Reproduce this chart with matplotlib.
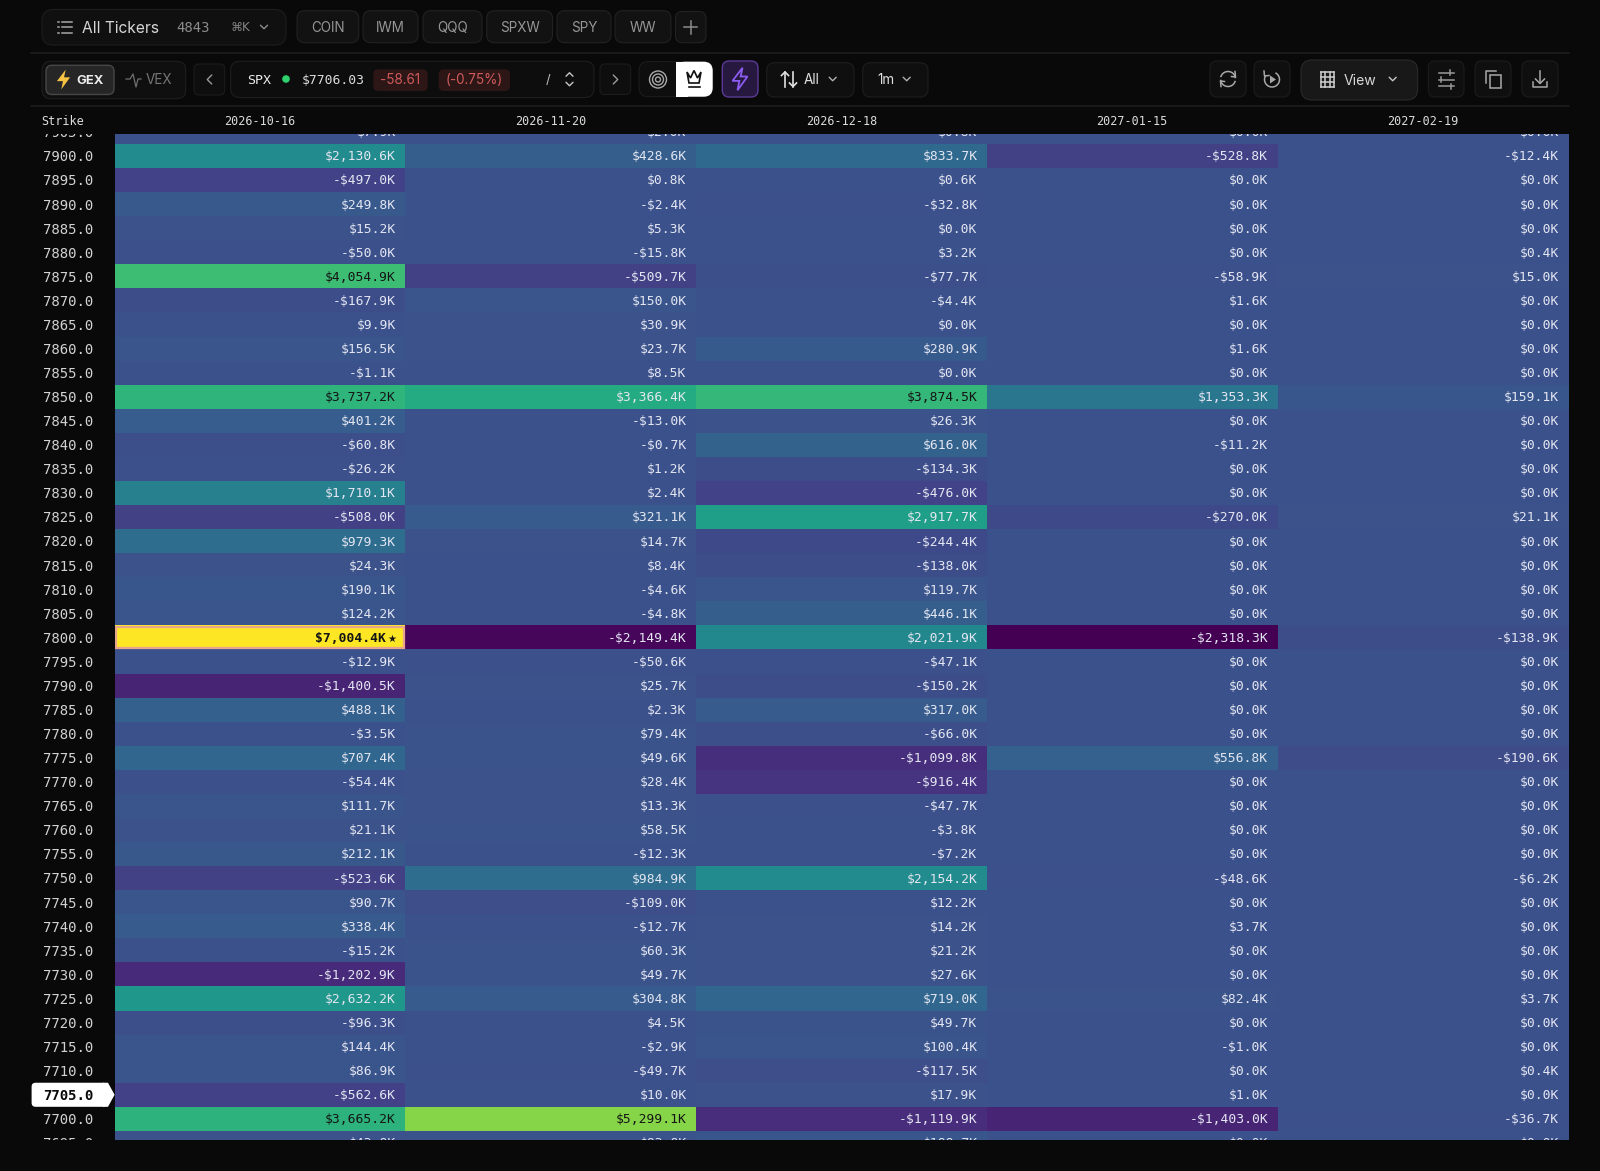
import matplotlib
matplotlib.use("Agg")
import matplotlib.pyplot as plt
import numpy as np
from matplotlib.colors import Normalize
from matplotlib.patches import Circle, FancyBboxPatch, Polygon, Rectangle

WIDTH, HEIGHT = 1600, 1171
BG = "#090909"
MONO = "DejaVu Sans Mono"
SANS = "Inter"

# heatmap box in picture pixels
HEAT_LEFT, HEAT_RIGHT = 114.6, 1568.9
HEAT_TOP, HEAT_BOTTOM = 134.0, 1139.7
ROW_H = 24.07
FIRST_FULL_ROW_TOP = 144.0
LABEL_LEFT = 30.0

EXPIRIES = ["2026-10-16", "2026-11-20", "2026-12-18", "2027-01-15", "2027-02-19"]
TICKERS = ["COIN", "IWM", "QQQ", "SPXW", "SPY", "WW"]
SPOT_STRIKE = 7705.0

STRIKES = [7905.0, 7900.0, 7895.0, 7890.0, 7885.0, 7880.0, 7875.0, 7870.0, 7865.0, 7860.0, 7855.0,
           7850.0, 7845.0, 7840.0, 7835.0, 7830.0, 7825.0, 7820.0, 7815.0, 7810.0, 7805.0,
           7800.0, 7795.0, 7790.0, 7785.0, 7780.0, 7775.0, 7770.0, 7765.0, 7760.0, 7755.0,
           7750.0, 7745.0, 7740.0, 7735.0, 7730.0, 7725.0, 7720.0, 7715.0, 7710.0, 7705.0,
           7700.0, 7695.0]

GEX_OCT = [7.9, 2130.6, -497.0, 249.8, 15.2, -50.0, 4054.9, -167.9, 9.9, 156.5, -1.1,
           3737.2, 401.2, -60.8, -26.2, 1710.1, -508.0, 979.3, 24.3, 190.1, 124.2,
           7004.4, -12.9, -1400.5, 488.1, -3.5, 707.4, -54.4, 111.7, 21.1, 212.1,
           -523.6, 90.7, 338.4, -15.2, -1202.9, 2632.2, -96.3, 144.4, 86.9, -562.6,
           3665.2, 43.8]
GEX_NOV = [2.0, 428.6, 0.8, -2.4, 5.3, -15.8, -509.7, 150.0, 30.9, 23.7, 8.5,
           3366.4, -13.0, -0.7, 1.2, 2.4, 321.1, 14.7, 8.4, -4.6, -4.8,
           -2149.4, -50.6, 25.7, 2.3, 79.4, 49.6, 28.4, 13.3, 58.5, -12.3,
           984.9, -109.0, -12.7, 60.3, 49.7, 304.8, 4.5, -2.9, -49.7, 10.0,
           5299.1, 83.8]
GEX_DEC = [0.8, 833.7, 0.6, -32.8, 0.0, 3.2, -77.7, -4.4, 0.0, 280.9, 0.0,
           3874.5, 26.3, 616.0, -134.3, -476.0, 2917.7, -244.4, -138.0, 119.7, 446.1,
           2021.9, -47.1, -150.2, 317.0, -66.0, -1099.8, -916.4, -47.7, -3.8, -7.2,
           2154.2, 12.2, 14.2, 21.2, 27.6, 719.0, 49.7, 100.4, -117.5, 17.9,
           -1119.9, 188.7]
GEX_JAN = [0.0, -528.8, 0.0, 0.0, 0.0, 0.0, -58.9, 1.6, 0.0, 1.6, 0.0,
           1353.3, 0.0, -11.2, 0.0, 0.0, -270.0, 0.0, 0.0, 0.0, 0.0,
           -2318.3, 0.0, 0.0, 0.0, 0.0, 556.8, 0.0, 0.0, 0.0, 0.0,
           -48.6, 0.0, 3.7, 0.0, 0.0, 82.4, 0.0, -1.0, 0.0, 1.0,
           -1403.0, 0.0]
GEX_FEB = [0.0, -12.4, 0.0, 0.0, 0.0, 0.4, 15.0, 0.0, 0.0, 0.0, 0.0,
           159.1, 0.0, 0.0, 0.0, 0.0, 21.1, 0.0, 0.0, 0.0, 0.0,
           -138.9, 0.0, 0.0, 0.0, 0.0, -190.6, 0.0, 0.0, 0.0, 0.0,
           -6.2, 0.0, 0.0, 0.0, 0.0, 3.7, 0.0, 0.0, 0.4, 0.0,
           -36.7, 0.0]


def px(size: float) -> float:
    """Font size in picture pixels to points at dpi 100."""
    return size * 0.72


def format_gex(value: float) -> str:
    sign = "-" if value < 0 else ""
    return f"{sign}${abs(value):,.1f}K"


def pill(ax, x0, x1, y0, y1, radius=7.0, face="#111111", edge="#202020", lw=0.8):
    ax.add_patch(FancyBboxPatch((x0, y0), x1 - x0, y1 - y0,
                                boxstyle=f"round,pad=0,rounding_size={radius}",
                                facecolor=face, edgecolor=edge, linewidth=lw))


def chevron(ax, x, y, size=3.5, color="#9a9a9a", direction="down", lw=1.0):
    if direction == "down":
        xs, ys = [x - size, x, x + size], [y - size / 2, y + size / 2, y - size / 2]
    elif direction == "up":
        xs, ys = [x - size, x, x + size], [y + size / 2, y - size / 2, y + size / 2]
    elif direction == "left":
        xs, ys = [x + size / 2, x - size / 2, x + size / 2], [y - size, y, y + size]
    else:
        xs, ys = [x - size / 2, x + size / 2, x - size / 2], [y - size, y, y + size]
    ax.plot(xs, ys, color=color, linewidth=lw, solid_capstyle="round")


def label(ax, x, y, text, size=13.0, color="#d8d8d8", family=SANS, ha="left", weight="normal"):
    # baseline placement, so Q or commas do not move the text up or down
    ax.text(x, y + size * 0.36, text, fontsize=px(size), color=color, family=family, ha=ha, va="baseline",
            fontweight=weight)


def bolt(ax, x, y, scale=1.0, **kwargs):
    shape = np.array([[2, -9], [-6, 1.5], [-0.5, 1.5], [-2, 9], [6, -2], [0.5, -2]]) * scale
    ax.add_patch(Polygon(shape + [x, y], closed=True, **kwargs))


def draw_toolbar(ax):
    # separators
    for y in (53.3, 105.7):
        ax.plot([31, HEAT_RIGHT], [y, y], color="#1d1d1d", linewidth=1.2)

    # first row
    pill(ax, 42, 286, 9.5, 45, radius=11, face="#101010", edge="#1e1e1e")
    for y in (21.5, 27, 32.5):
        ax.plot([57.5, 59], [y, y], color="#a8a8a8", linewidth=1.1)
        ax.plot([61.5, 72], [y, y], color="#a8a8a8", linewidth=1.1)
    label(ax, 82.5, 27, "All Tickers", size=15.5, color="#d6d6d6")
    label(ax, 176, 27, "4843", size=14, color="#8c8c8c", family=MONO)
    label(ax, 230.5, 27, "⌘K", size=12, color="#858585", family="DejaVu Sans")
    chevron(ax, 264, 27, color="#8c8c8c")

    ticker_edges = [(297, 358.7), (363, 418), (423, 482), (486.7, 552.5), (557, 611), (615, 671)]
    for name, (x0, x1) in zip(TICKERS, ticker_edges):
        pill(ax, x0, x1, 10.7, 42.7, radius=8, face="#121212", edge="#222222")
        label(ax, (x0 + x1) / 2, 27, name, size=13.5, color="#969696", ha="center")
    pill(ax, 675.5, 706, 11.5, 42.7, radius=7, face="#121212", edge="#222222")
    ax.plot([684, 697], [27, 27], color="#8c8c8c", linewidth=1.1)
    ax.plot([690.5, 690.5], [20.5, 33.5], color="#8c8c8c", linewidth=1.1)

    # GEX / VEX switch
    pill(ax, 42, 185.7, 61.3, 98.7, radius=9, face="#0f0f0f", edge="#1e1e1e")
    pill(ax, 46, 114, 65.3, 94.5, radius=6, face="#262626", edge="#474747", lw=1.0)
    bolt(ax, 63.5, 79.5, scale=1.1, facecolor="#f6c344", edgecolor="none")
    label(ax, 76.5, 79.5, "GEX", size=13, color="#ededed", weight="bold")
    ax.plot([126, 130, 133, 136, 138, 141], [79, 79, 74, 87, 79, 79], color="#6f6f6f", linewidth=0.9)
    label(ax, 146, 79.5, "VEX", size=13.5, color="#757575")

    pill(ax, 194, 224.7, 64, 95, radius=5, face="#0e0e0e", edge="#1c1c1c")
    chevron(ax, 209.5, 79.5, size=4.5, direction="left")

    # symbol box
    pill(ax, 230.7, 594, 61.3, 97.5, radius=9, face="#0d0d0d", edge="#1e1e1e")
    label(ax, 247.5, 79.5, "SPX", size=13.2, color="#ececec", family=MONO)
    ax.add_patch(Circle((286, 79), 3.8, facecolor="#2fd16f", edgecolor="none"))
    label(ax, 301.5, 79.5, "$7706.03", size=13, color="#dcdcdc", family=MONO)
    pill(ax, 373.3, 427.7, 69.3, 91, radius=5, face="#2c1616", edge="none", lw=0)
    label(ax, 400.5, 79.5, "-58.61", size=13.5, color="#d05a5a", ha="center")
    pill(ax, 438.7, 510, 69.3, 91, radius=5, face="#2c1616", edge="none", lw=0)
    label(ax, 474.3, 79.5, "(-0.75%)", size=13.5, color="#d05a5a", ha="center")
    label(ax, 548, 79.5, "/", size=13, color="#bdbdbd", ha="center")
    chevron(ax, 569.5, 74.5, size=3.5, direction="up", color="#c8c8c8")
    chevron(ax, 569.5, 84, size=3.5, color="#c8c8c8")

    pill(ax, 600, 630.7, 64, 94.5, radius=5, face="#0e0e0e", edge="#1c1c1c")
    chevron(ax, 615.5, 79.5, size=4.5, direction="right")

    # icon group with white crown toggle
    pill(ax, 639, 712.7, 61.7, 96.7, radius=9, face="#0e0e0e", edge="#1c1c1c")
    pill(ax, 676, 712.7, 61.7, 96.7, radius=9, face="#ffffff", edge="none", lw=0)
    ax.add_patch(Rectangle((676, 61.7), 12, 35, facecolor="#ffffff", edgecolor="none"))
    for radius in (8.5, 5.5, 2.5):
        ax.add_patch(Circle((658, 79.5), radius, facecolor="none", edgecolor="#a8a8a8", linewidth=1.0))
    crown = [[687, 72], [690.5, 78], [694, 70.5], [697.5, 78], [701, 72], [699, 83], [689, 83]]
    ax.add_patch(Polygon(crown, closed=True, facecolor="none", edgecolor="#111111", linewidth=1.2))
    ax.plot([688.5, 699.5], [86.5, 86.5], color="#111111", linewidth=1.2)

    pill(ax, 722.3, 758, 61, 97, radius=7, face="#26183e", edge="#5a3a96", lw=1.0)
    bolt(ax, 740, 79, scale=1.25, facecolor="none", edgecolor="#8d5cf0", linewidth=1.3)

    pill(ax, 766.7, 854, 62.7, 97, radius=8, face="#0f0f0f", edge="#1e1e1e")
    ax.plot([785, 785], [86.5, 72], color="#e2e2e2", linewidth=1.2)
    ax.plot([781.5, 785, 788.5], [75.5, 72, 75.5], color="#e2e2e2", linewidth=1.2)
    ax.plot([793, 793], [72, 86.5], color="#e2e2e2", linewidth=1.2)
    ax.plot([789.5, 793, 796.5], [83, 86.5, 83], color="#e2e2e2", linewidth=1.2)
    label(ax, 804, 79.5, "All", size=13.5, color="#e0e0e0")
    chevron(ax, 832.7, 79, color="#b0b0b0")

    pill(ax, 862.7, 928, 62.7, 97, radius=8, face="#0f0f0f", edge="#1e1e1e")
    label(ax, 877, 79.5, "1m", size=13.5, color="#e0e0e0")
    chevron(ax, 906.7, 79, color="#b0b0b0")

    # right side buttons
    for x0, x1 in [(1210, 1246), (1254, 1290), (1428.3, 1464), (1475, 1511), (1522, 1558)]:
        pill(ax, x0, x1, 61, 97, radius=7, face="#0f0f0f", edge="#1c1c1c")
    pill(ax, 1301, 1417.7, 60, 100, radius=11, face="#181818", edge="#2a2a2a")

    # refresh arrows
    theta = np.linspace(0.2, 2.8, 30)
    ax.plot(1228 + 7.5 * np.cos(theta), 79 - 7.5 * np.sin(theta), color="#a8a8a8", linewidth=1.1)
    ax.plot(1228 - 7.5 * np.cos(theta), 79 + 7.5 * np.sin(theta), color="#a8a8a8", linewidth=1.1)
    ax.plot([1235, 1235.5, 1231.5], [71.5, 77, 76.5], color="#a8a8a8", linewidth=1.1)
    ax.plot([1221, 1220.5, 1224.5], [86.5, 81, 81.5], color="#a8a8a8", linewidth=1.1)

    theta = np.linspace(-1.0, 3.6, 40)
    ax.plot(1272 + 7.5 * np.cos(theta), 79.5 + 7.5 * np.sin(theta), color="#a8a8a8", linewidth=1.1)
    ax.plot([1264, 1264.5, 1269], [71, 76, 75.5], color="#a8a8a8", linewidth=1.1)
    ax.add_patch(Polygon([[1270, 75.5], [1270, 83.5], [1276, 79.5]], closed=True, facecolor="#a8a8a8"))

    for x in (1320.5, 1325, 1329.5, 1334):
        ax.plot([x, x], [72, 86.5], color="#d0d0d0", linewidth=1.1)
    for y in (72, 76.8, 81.6, 86.5):
        ax.plot([1320.5, 1334], [y, y], color="#d0d0d0", linewidth=1.1)
    label(ax, 1344, 79.5, "View", size=14, color="#d8d8d8")
    chevron(ax, 1392.7, 79, color="#c8c8c8")

    for y, notch in ((72.5, 1450), (79.5, 1441), (86, 1451)):
        ax.plot([1439, 1454], [y, y], color="#9a9a9a", linewidth=1.1)
        ax.plot([notch, notch], [y - 2.5, y + 2.5], color="#9a9a9a", linewidth=1.1)

    ax.add_patch(Rectangle((1489.5, 75), 11, 12.5, facecolor="none", edgecolor="#a8a8a8", linewidth=1.1))
    ax.plot([1486, 1486, 1496], [83, 71, 71], color="#a8a8a8", linewidth=1.1)

    ax.plot([1540, 1540], [71, 83], color="#a8a8a8", linewidth=1.1)
    ax.plot([1535.5, 1540, 1544.5], [79, 83.5, 79], color="#a8a8a8", linewidth=1.1)
    ax.plot([1533, 1533, 1547, 1547], [82, 87, 87, 82], color="#a8a8a8", linewidth=1.1)


def draw_header(ax):
    label(ax, 41.5, 120.5, "Strike", size=11.8, color="#dcdcdc", family=MONO)
    col_w = (HEAT_RIGHT - HEAT_LEFT) / len(EXPIRIES)
    for index, expiry in enumerate(EXPIRIES):
        label(ax, HEAT_LEFT + col_w * (index + 0.5) - 0.5, 120.5, expiry, size=11.7, color="#dcdcdc",
              family=MONO, ha="center")


def main() -> None:
    figure = plt.figure(figsize=(WIDTH / 100, HEIGHT / 100), dpi=100, facecolor=BG)

    chrome = figure.add_axes([0, 0, 1, 1], zorder=0)
    chrome.set_xlim(0, WIDTH)
    chrome.set_ylim(HEIGHT, 0)
    chrome.axis("off")
    draw_toolbar(chrome)
    draw_header(chrome)

    rows = len(STRIKES)
    top_lim = (HEAT_TOP - FIRST_FULL_ROW_TOP) / ROW_H + 1
    bottom_lim = (HEAT_BOTTOM - FIRST_FULL_ROW_TOP) / ROW_H + 1
    ax_box = [HEAT_LEFT / WIDTH, 1 - HEAT_BOTTOM / HEIGHT,
              (HEAT_RIGHT - HEAT_LEFT) / WIDTH, (HEAT_BOTTOM - HEAT_TOP) / HEIGHT]

    # white tag for the spot strike, sits under the strike labels
    spot_index = STRIKES.index(SPOT_STRIKE)
    tag_top = FIRST_FULL_ROW_TOP + (spot_index - 1) * ROW_H
    tag_bottom = tag_top + ROW_H
    pill(chrome, 31.6, 107, tag_top, tag_bottom, radius=4, face="#ffffff", edge="none", lw=0)
    chrome.add_patch(Polygon([[103, tag_top], [108, tag_top], [HEAT_LEFT, (tag_top + tag_bottom) / 2],
                              [108, tag_bottom], [103, tag_bottom]], closed=True, facecolor="#ffffff"))

    strike_ax = figure.add_axes([LABEL_LEFT / WIDTH, ax_box[1], (HEAT_LEFT - LABEL_LEFT) / WIDTH, ax_box[3]],
                                zorder=1)
    strike_ax.set_xlim(0, 1)
    strike_ax.set_ylim(bottom_lim, top_lim)
    strike_ax.axis("off")

    heat_ax = figure.add_axes(ax_box, zorder=2)
    values = np.column_stack([GEX_OCT, GEX_NOV, GEX_DEC, GEX_JAN, GEX_FEB])
    norm = Normalize(vmin=values.min(), vmax=values.max())
    heat_ax.pcolormesh(np.arange(values.shape[1] + 1), np.arange(rows + 1), values, cmap="viridis", norm=norm,
                       shading="flat", linewidth=0, rasterized=True)
    heat_ax.set_xlim(0, values.shape[1])
    heat_ax.set_ylim(bottom_lim, top_lim)
    heat_ax.axis("off")

    col_px = (HEAT_RIGHT - HEAT_LEFT) / values.shape[1]
    pad = 9.8 / col_px
    max_row, max_col = np.unravel_index(values.argmax(), values.shape)
    cell_size, strike_size = 13.0, 14.0
    cell_shift = (cell_size * 0.36 - 0.3) / ROW_H
    strike_shift = (strike_size * 0.36 + 0.3) / ROW_H

    for row, strike in enumerate(STRIKES):
        is_spot = strike == SPOT_STRIKE
        strike_ax.text((93 - LABEL_LEFT) / (HEAT_LEFT - LABEL_LEFT), row + 0.5 + strike_shift, f"{strike:.1f}",
                       fontsize=px(strike_size), family=MONO, ha="right", va="baseline", clip_on=True,
                       color="#0a0a0a" if is_spot else "#d2d2d2", fontweight="bold" if is_spot else "normal")
        for col in range(values.shape[1]):
            value = values[row, col]
            is_max = row == max_row and col == max_col
            color = "#141414" if norm(value) > 0.625 else "#e4e6f2"
            right = col + 1 - pad
            if is_max:
                right -= 9.5 / col_px
                heat_ax.text(right + 1.2 / col_px, row + 0.5 + cell_shift, "★", fontsize=px(10),
                             family="DejaVu Sans", ha="left", va="baseline", color=color, clip_on=True)
            heat_ax.text(right, row + 0.5 + cell_shift, format_gex(value), fontsize=px(cell_size), family=MONO,
                         ha="right", va="baseline", color=color, clip_on=True,
                         fontweight="bold" if is_max else "normal")

    # outline on the largest cell
    inset_x, inset_y = 1.5 / col_px, 1.5 / ROW_H
    heat_ax.add_patch(Rectangle((max_col + inset_x, max_row + inset_y), 1 - 2 * inset_x, 1 - 2 * inset_y,
                                facecolor="none", edgecolor="#e6a58c", linewidth=1.6))

    figure.savefig("out.png", dpi=100, facecolor=BG)


if __name__ == "__main__":
    main()
